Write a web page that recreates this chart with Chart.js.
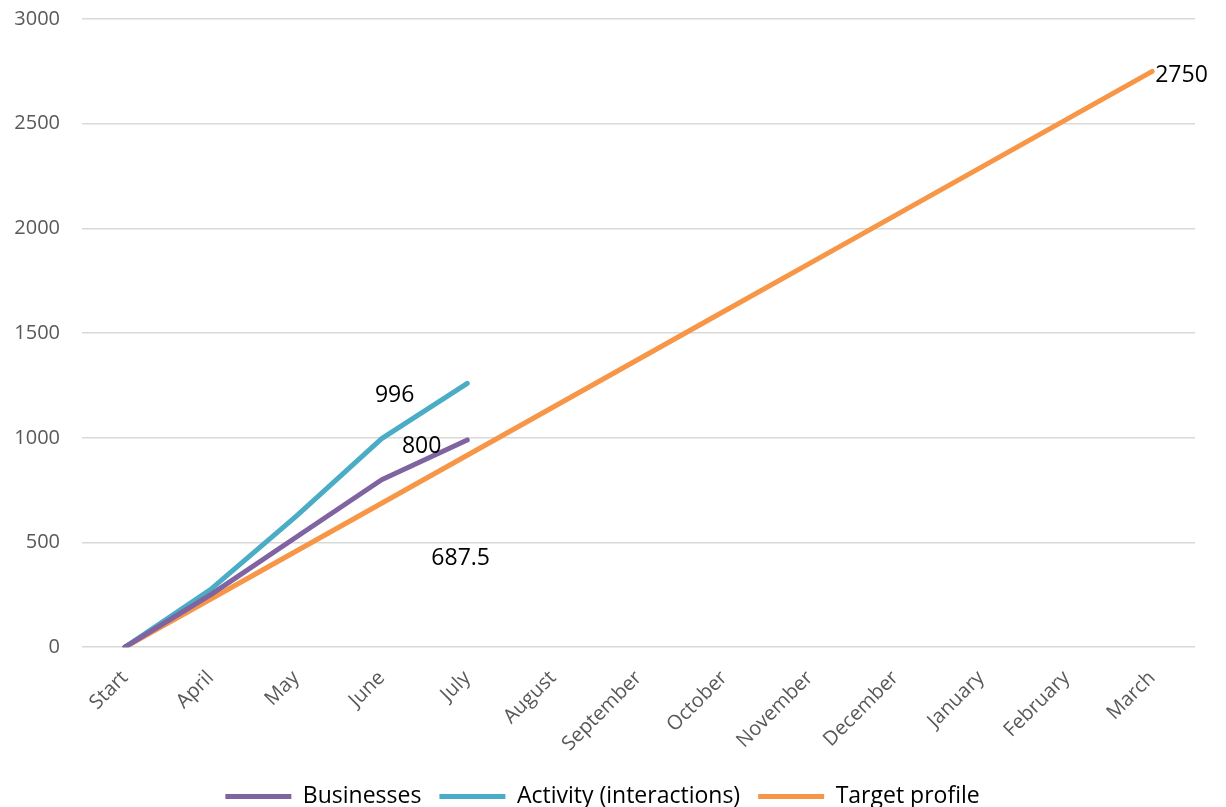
<!DOCTYPE html>
<html lang="en">
<head>
  <meta charset="UTF-8">
  <title>Businesses vs target</title>
  <script src="https://cdn.jsdelivr.net/npm/chart.js"></script>
  <style>
    html, body { margin: 0; padding: 0; background: #fff; }
    .wrap { width: 1226px; height: 807px; position: relative; }
  </style>
</head>
<body>
  <div class="wrap">
    <canvas id="progressChart"></canvas>
  </div>

  <script>
    const months = [
      'Start', 'April', 'May', 'June', 'July', 'August', 'September',
      'October', 'November', 'December', 'January', 'February', 'March'
    ];

    // Actuals so far (only reported up to July)
    const businesses = [0, 250, 525, 800, 990];
    const activity = [0, 275, 625, 996, 1260];

    // Target profile for the year
    const target = [0, 229.17, 458.33, 687.5, 916.67, 1145.83, 1375,
                    1604.17, 1833.33, 2062.5, 2291.67, 2520.83, 2750];

    const yTicks = [0, 500, 1000, 1500, 2000, 2500, 3000];

    // Which points get a value printed next to them, and where
    const valueLabels = [
      { dataset: 1, index: 3, dx: 13, dy: -43, align: 'center' },
      { dataset: 0, index: 3, dx: 40, dy: -33, align: 'center' },
      { dataset: 2, index: 3, dx: 79, dy: 55, align: 'center' },
      { dataset: 2, index: 12, dx: 3, dy: 4, align: 'left' }
    ];

    const pointValues = {
      id: 'pointValues',
      afterDatasetsDraw(chart) {
        const ctx = chart.ctx;
        ctx.save();
        ctx.font = '23px "Open Sans", sans-serif';
        ctx.fillStyle = '#000';
        ctx.textBaseline = 'middle';
        valueLabels.forEach(l => {
          const pt = chart.getDatasetMeta(l.dataset).data[l.index];
          const value = chart.data.datasets[l.dataset].data[l.index];
          ctx.textAlign = l.align;
          ctx.fillText(String(value), pt.x + l.dx, pt.y + l.dy);
        });
        ctx.restore();
      }
    };

    function line(label, data, color) {
      return {
        label: label,
        data: data,
        borderColor: color,
        backgroundColor: color,
        borderWidth: 5,
        borderCapStyle: 'round',
        borderJoinStyle: 'round',
        pointRadius: 0,
        pointHoverRadius: 0,
        pointStyle: 'line',
        tension: 0,
        fill: false
      };
    }

    const ctx = document.getElementById('progressChart').getContext('2d');
    new Chart(ctx, {
      type: 'line',
      data: {
        labels: months,
        datasets: [
          line('Businesses', businesses, '#8064A2'),
          line('Activity (interactions)', activity, '#4BACC6'),
          line('Target profile', target, '#F79646')
        ]
      },
      options: {
        responsive: true,
        maintainAspectRatio: false,
        animation: false,
        layout: {
          padding: { left: 10, right: 31, top: 19, bottom: -11 }
        },
        scales: {
          x: {
            offset: true,
            grid: { display: false },
            border: { display: false },
            ticks: {
              color: '#595959',
              font: { family: '"Open Sans", sans-serif', size: 20 },
              minRotation: 45,
              maxRotation: 45,
              autoSkip: false,
              padding: 11
            },
            afterFit(scale) {
              // rotated first label may hang left of the plot; don't reserve room for it
              scale.paddingLeft = 0;
              scale.paddingRight = 0;
            }
          },
          y: {
            min: 0,
            max: 3000,
            afterBuildTicks(scale) {
              scale.ticks = yTicks.map(v => ({ value: v }));
            },
            grid: { color: '#D9D9D9', lineWidth: 1.5, drawTicks: false },
            border: { display: false },
            ticks: {
              color: '#595959',
              font: { family: '"Open Sans", sans-serif', size: 20 },
              padding: 22,
              callback: v => String(v)
            },
            afterFit(scale) {
              scale.width = 72;
              scale.paddingTop = 0;
              scale.paddingBottom = 0;
            }
          }
        },
        plugins: {
          legend: {
            position: 'bottom',
            labels: {
              usePointStyle: true,
              pointStyleWidth: 66,
              color: '#000',
              font: { family: '"Open Sans", sans-serif', size: 23 },
              padding: 18
            }
          },
          tooltip: { enabled: false }
        }
      },
      plugins: [pointValues]
    });
  </script>
</body>
</html>
